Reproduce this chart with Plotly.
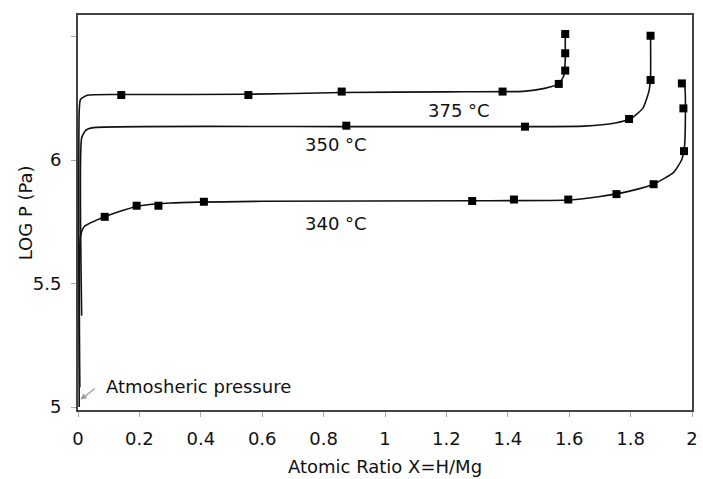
import plotly.graph_objects as go

# Measured points (atomic ratio H/Mg, log10 pressure in Pa)
x375 = [0.141, 0.555, 0.859, 1.383, 1.566, 1.587, 1.587, 1.587]
y375 = [6.263, 6.263, 6.277, 6.277, 6.308, 6.362, 6.432, 6.510]

x350 = [0.874, 1.456, 1.795, 1.865, 1.865]
y350 = [6.139, 6.135, 6.166, 6.324, 6.503]

x340 = [0.087, 0.191, 0.262, 0.410, 1.284, 1.420, 1.597, 1.754, 1.875, 1.974, 1.972, 1.967]
y340 = [5.770, 5.815, 5.815, 5.831, 5.834, 5.840, 5.840, 5.862, 5.902, 6.036, 6.209, 6.310]

# Fitted isotherm curves
cx375 = [0.004, 0.004, 0.008, 0.030, 0.140, 0.550, 0.860, 1.200, 1.450, 1.520, 1.566, 1.582, 1.587, 1.587]
cy375 = [5.000, 6.200, 6.245, 6.262, 6.265, 6.266, 6.273, 6.276, 6.278, 6.290, 6.308, 6.340, 6.400, 6.510]

cx350 = [0.012, 0.012, 0.025, 0.050, 0.870, 1.450, 1.650, 1.750, 1.800, 1.840, 1.860, 1.865, 1.865]
cy350 = [5.370, 6.090, 6.120, 6.131, 6.135, 6.135, 6.137, 6.150, 6.167, 6.210, 6.280, 6.340, 6.503]

cx340 = [0.006, 0.008, 0.020, 0.087, 0.190, 0.300, 0.600, 1.280, 1.600, 1.700, 1.800, 1.880, 1.940, 1.966, 1.976, 1.976, 1.966]
cy340 = [5.080, 5.690, 5.730, 5.770, 5.812, 5.826, 5.833, 5.835, 5.838, 5.852, 5.875, 5.905, 5.950, 6.000, 6.060, 6.300, 6.315]

labels = ["375 °C", "350 °C", "340 °C"]
label_x = [1.24, 0.84, 0.84]
label_y = [6.202, 6.061, 5.745]

xticks = [0, 0.2, 0.4, 0.6, 0.8, 1, 1.2, 1.4, 1.6, 1.8, 2]
xticktext = ["0", "0.2", "0.4", "0.6", "0.8", "1", "1.2", "1.4", "1.6", "1.8", "2"]
yticks = [5, 5.5, 6, 6.5]
yticktext = ["5", "5.5", "6", ""]

FONT = "DejaVu Sans"
TXT = "#111"

fig = go.Figure()

for cx, cy in [(cx375, cy375), (cx350, cy350), (cx340, cy340)]:
    fig.add_trace(go.Scatter(x=cx, y=cy, mode="lines",
                             line=dict(color="#111", width=1.6, shape="spline", smoothing=0.5),
                             hoverinfo="skip", showlegend=False))

for px, py in [(x375, y375), (x350, y350), (x340, y340)]:
    fig.add_trace(go.Scatter(x=px, y=py, mode="markers",
                             marker=dict(symbol="square", size=8, color="#000"),
                             showlegend=False))

for t, lx, ly in zip(labels, label_x, label_y):
    fig.add_annotation(x=lx, y=ly, text=t, showarrow=False,
                       font=dict(family=FONT, size=18, color=TXT))

fig.add_annotation(x=0.008, y=5.03, ax=0.06, ay=5.08, axref="x", ayref="y",
                   text="", showarrow=True, arrowhead=2, arrowsize=1, arrowwidth=1.2,
                   arrowcolor="#999")
fig.add_annotation(x=0.085, y=5.085, text="Atmosheric pressure", showarrow=False,
                   xanchor="left", font=dict(family=FONT, size=18, color=TXT))

# Vertical axis title
fig.add_annotation(xref="paper", yref="paper", x=-0.085, y=0.5, text="LOG P (Pa)",
                   textangle=-90, showarrow=False, xanchor="center", yanchor="middle",
                   font=dict(family=FONT, size=18, color=TXT))

fig.update_xaxes(range=[0, 2], tickvals=xticks, ticktext=xticktext,
                 showgrid=False, zeroline=False, showline=True, linecolor="#444", linewidth=2,
                 mirror=True, ticks="outside", ticklen=5, tickcolor="#aaa",
                 ticklabelstandoff=6,
                 tickfont=dict(family=FONT, size=18, color=TXT),
                 title=dict(text="Atomic Ratio X=H/Mg", font=dict(family=FONT, size=18, color=TXT),
                            standoff=13))
fig.update_yaxes(range=[4.988, 6.587], tickvals=yticks, ticktext=yticktext,
                 showgrid=False, zeroline=False, showline=True, linecolor="#444", linewidth=2,
                 mirror=True, ticks="outside", ticklen=5, tickcolor="#aaa",
                 ticklabelstandoff=6,
                 tickfont=dict(family=FONT, size=18, color=TXT))

fig.update_layout(width=703, height=479, margin=dict(l=78, r=5, t=15, b=69),
                  plot_bgcolor="white", paper_bgcolor="white")

fig.write_html("out.html")
